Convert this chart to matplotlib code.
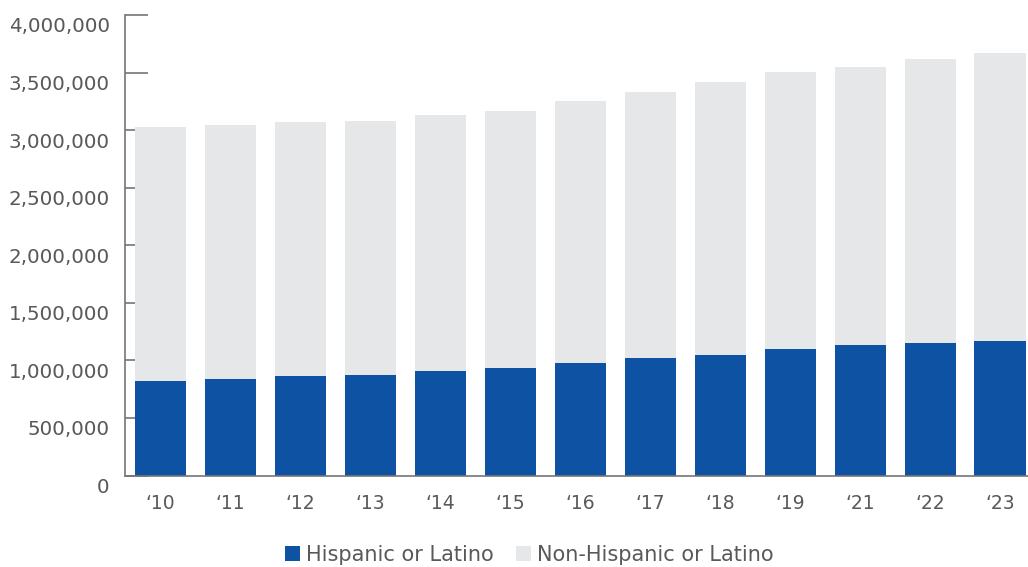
import matplotlib
matplotlib.use("Agg")
import matplotlib.pyplot as plt
import matplotlib.transforms as mtransforms
import numpy as np

# Population by ethnicity, stacked per year
years = ["\u201810", "\u201811", "\u201812", "\u201813", "\u201814", "\u201815", "\u201816",
         "\u201817", "\u201818", "\u201819", "\u201821", "\u201822", "\u201823"]
hispanic = [821000, 838000, 864000, 873000, 908000, 932000, 975000,
            1021000, 1050000, 1096000, 1134000, 1152000, 1171000]
total = [3027000, 3045000, 3071000, 3079000, 3132000, 3166000, 3253000,
         3331000, 3418000, 3505000, 3548000, 3618000, 3670000]
non_hispanic = [t - h for t, h in zip(total, hispanic)]

BLUE = "#0D52A3"
GREY = "#E6E7E8"
TEXT = "#595959"
AXIS = "#767676"

plt.rcParams["font.family"] = ["DejaVu Sans"]

fig = plt.figure(figsize=(10.28, 5.67), dpi=100)
ax = fig.add_axes([125 / 1028, 91.5 / 567, 903 / 1028, 460.5 / 567])

x = np.arange(len(years))
ax.bar(x, hispanic, width=0.73, color=BLUE, label="Hispanic or Latino")
ax.bar(x, non_hispanic, width=0.73, bottom=hispanic, color=GREY,
       label="Non-Hispanic or Latino")

ax.set_xlim(-0.507, 12.4)
ax.set_ylim(0, 4000000)
ax.set_axisbelow(True)

for side in ("top", "right"):
    ax.spines[side].set_visible(False)
for side in ("left", "bottom"):
    ax.spines[side].set_color(AXIS)
    ax.spines[side].set_linewidth(1.2)

ax.set_yticks(np.arange(0, 4000001, 500000))
ax.yaxis.set_major_formatter(matplotlib.ticker.FuncFormatter(lambda v, _: f"{int(v):,}"))
ax.tick_params(axis="y", direction="in", length=16.5, width=1.2, color=AXIS,
               labelsize=14.3, labelcolor=TEXT, pad=11)
ax.set_xticks(x)
ax.set_xticklabels(years)
ax.tick_params(axis="x", length=0, labelsize=13.5, labelcolor=TEXT, pad=13)

# y labels sit a bit below their tick marks
shift = mtransforms.ScaledTranslation(0, -10 / 100, fig.dpi_scale_trans)
for lbl in ax.get_yticklabels():
    lbl.set_transform(lbl.get_transform() + shift)

leg = fig.legend(loc="center", bbox_to_anchor=(0.515, 0.022), ncol=2, frameon=False,
                 fontsize=15, handlelength=0.7, handleheight=0.7,
                 handletextpad=0.3, columnspacing=1.1)
for t in leg.get_texts():
    t.set_color(TEXT)

fig.savefig("out.png", dpi=100)
